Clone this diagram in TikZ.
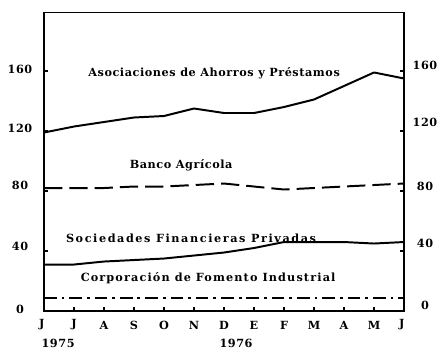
\documentclass[tikz,border=0pt]{standalone}
\usepackage{fontspec}
\setmainfont{DejaVu Serif}

\begin{document}
\begin{tikzpicture}[x=0.75cm, y=0.0375cm, anchor=center,
    font=\bfseries\fontsize{8}{9}\selectfont\addfontfeatures{LetterSpace=5}]

		\useasboundingbox (-1.4667,-26.667) rectangle (13.2,207.33);

		\tikzset{marco/.style={line width=1.4pt},
		         serie/.style={line width=1.4pt, line join=round},
		         rayas/.style={serie, dash pattern=on 13pt off 5pt},
		         rayapunto/.style={serie, dash pattern=on 9pt off 3.5pt on 2pt off 3.5pt},
		         marca/.style={line width=0.9pt},
		         rotulo/.style={inner sep=1pt}}

		\draw[marco] (0,0) rectangle (12,199);

		\draw[marca] (0,40) -- +(0.12,0);
		\draw[marca] (0,80) -- +(0.12,0);
		\draw[marca] (0,120) -- +(0.12,0);
		\draw[marca] (0,160) -- +(0.12,0);
		\draw[marca] (12,40) -- +(-0.12,0);
		\draw[marca] (12,80) -- +(-0.12,0);
		\draw[marca] (12,120) -- +(-0.12,0);
		\draw[marca] (12,160) -- +(-0.12,0);

		\draw[marca] (1,0) -- +(0,3);
		\draw[marca] (2,0) -- +(0,3);
		\draw[marca] (3,0) -- +(0,3);
		\draw[marca] (4,0) -- +(0,3);
		\draw[marca] (5,0) -- +(0,3);
		\draw[marca] (6,0) -- +(0,3);
		\draw[marca] (7,0) -- +(0,3);
		\draw[marca] (8,0) -- +(0,3);
		\draw[marca] (9,0) -- +(0,3);
		\draw[marca] (10,0) -- +(0,3);
		\draw[marca] (11,0) -- +(0,3);

		\node (izq0) at (-0.8,1) {0};
		\node (izq40) at (-0.8,43) {40};
		\node (izq80) at (-0.8,84) {80};
		\node (izq120) at (-0.8,122) {120};
		\node (izq160) at (-0.8,161) {160};
		\node (der0) at (12.7,4) {0};
		\node (der40) at (12.7,45) {40};
		\node (der80) at (12.7,83) {80};
		\node (der120) at (12.7,126) {120};
		\node (der160) at (12.7,164) {160};

		\node (mJun) at (-0.07,-9.3) {J};
		\node (mJul) at (1,-9.3) {J};
		\node (mAgo) at (2,-9.3) {A};
		\node (mSep) at (3,-9.3) {S};
		\node (mOct) at (4,-9.3) {O};
		\node (mNov) at (5,-9.3) {N};
		\node (mDic) at (6,-9.3) {D};
		\node (mEne) at (7,-9.3) {E};
		\node (mFeb) at (8,-9.3) {F};
		\node (mMar) at (9,-9.3) {M};
		\node (mAbr) at (10,-9.3) {A};
		\node (mMay) at (11,-9.3) {M};
		\node (mJun2) at (11.93,-9.3) {J};
		\node (a1975) at (0.47,-21.3) {1975};
		\node (a1976) at (6.4,-21.3) {1976};

		\draw[serie] (0,119) -- (1,123) -- (2,126) -- (3,129) -- (4,130) -- (5,135) -- (6,132) -- (7,132) -- (8,136) -- (9,141) -- (10,150) -- (11,159) -- (12,155);
		\draw[rayas] (0,82) -- (1,82) -- (2,82) -- (3,83) -- (4,83) -- (5,84) -- (6,85) -- (7,83) -- (8,81) -- (9,82) -- (10,83) -- (11,84) -- (12,85);
		\draw[serie] (0,31) -- (1,31) -- (2,33) -- (3,34) -- (4,35) -- (5,37) -- (6,39) -- (7,42) -- (8,46) -- (9,46) -- (10,46) -- (11,45) -- (12,46);
		\draw[rayapunto] (0,9) -- (12,9);

		\node[rotulo] (asoc) at (5.67,158.7) {Asociaciones de Ahorros y Préstamos};
		\node[rotulo] (banco) at (4.57,97.3) {Banco Agrícola};
		\node[rotulo, font=\bfseries\fontsize{8}{9}\selectfont\addfontfeatures{LetterSpace=14}] (soc) at (4.9,48.5) {Sociedades Financieras Privadas};
		\node[rotulo, font=\bfseries\fontsize{8}{9}\selectfont\addfontfeatures{LetterSpace=10}] (corp) at (5.47,22) {Corporación de Fomento Industrial};

\end{tikzpicture}
\end{document}
